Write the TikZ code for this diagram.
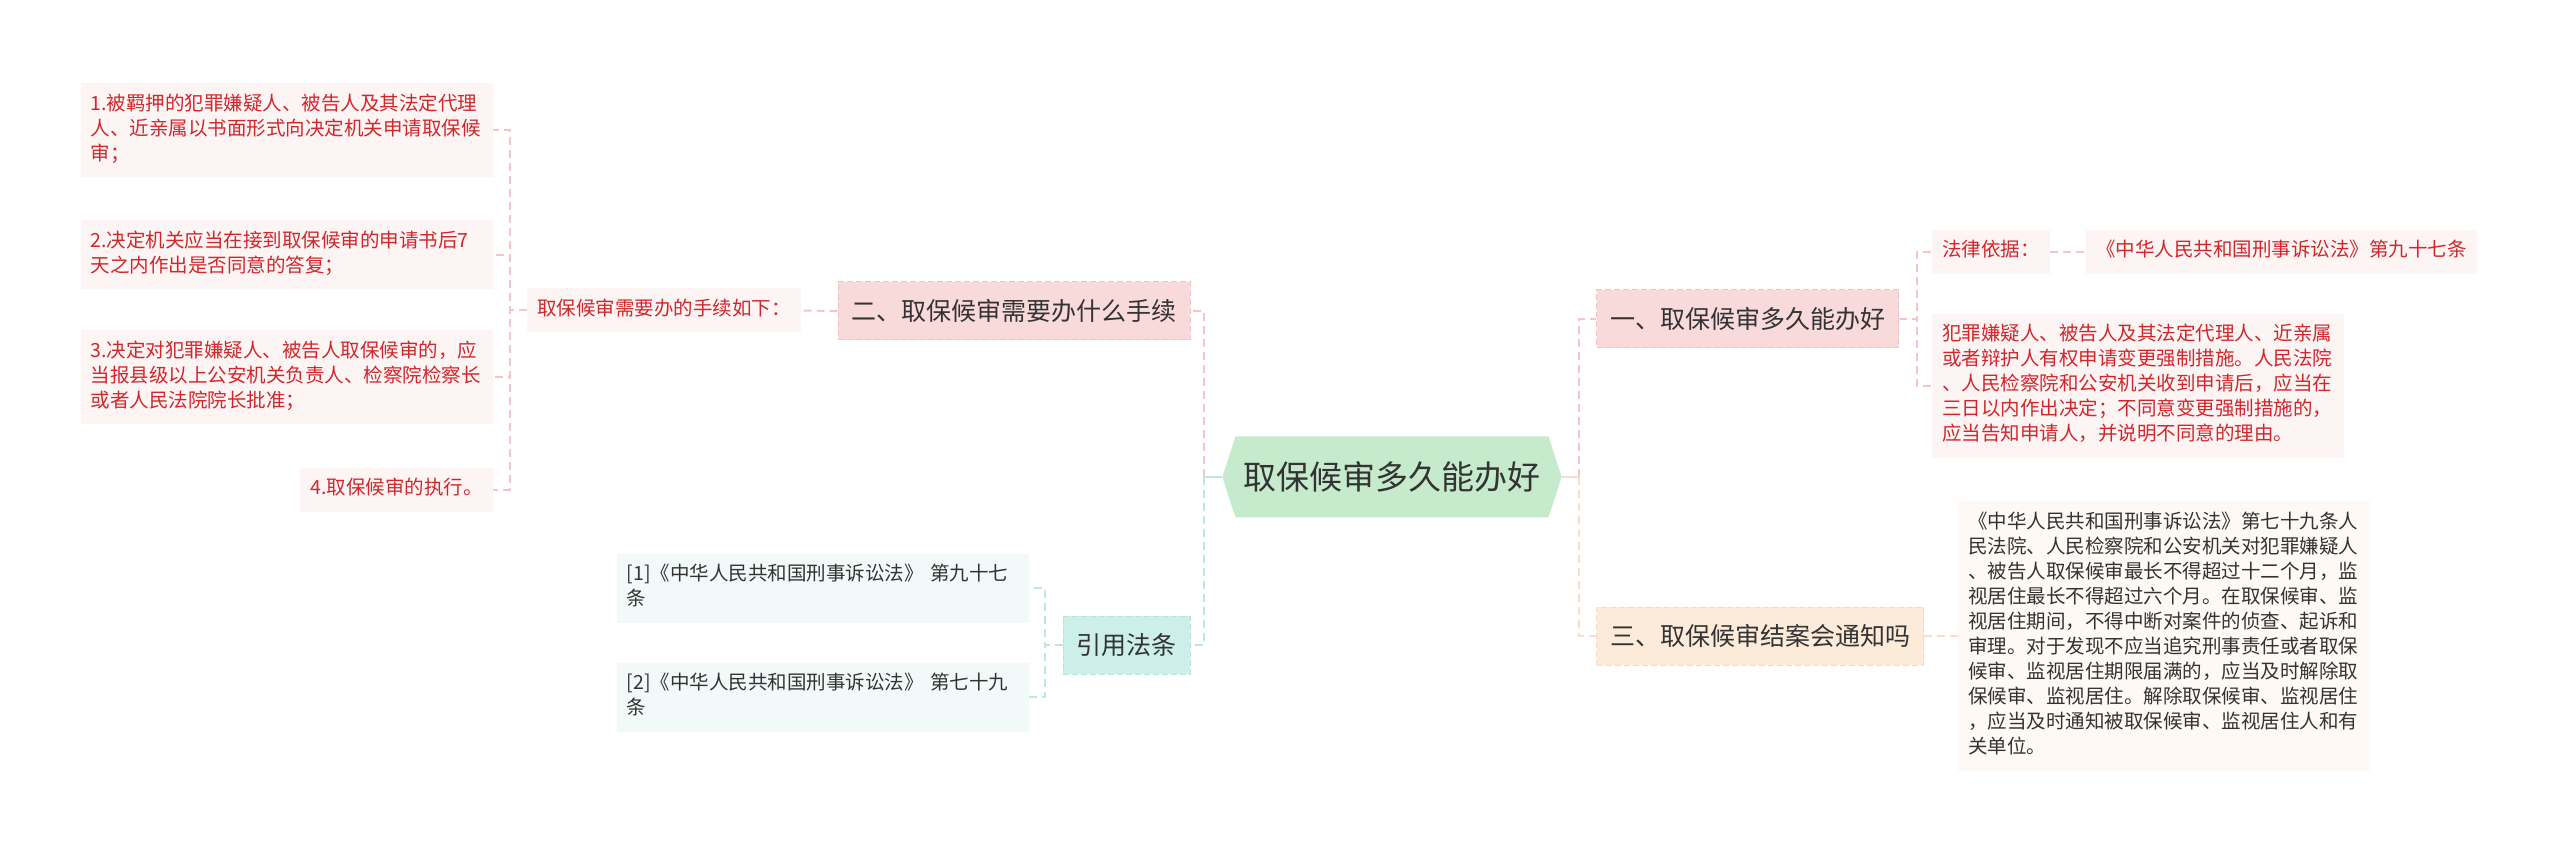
\documentclass[tikz,border=0pt]{standalone}
\usepackage{fontspec}
\setmainfont{Noto Sans CJK SC}
\usetikzlibrary{shapes.symbols}
\definecolor{RootFill}{HTML}{C6EACC}
\definecolor{Ink}{HTML}{333333}
\definecolor{LeafRed}{HTML}{D0272B}
\definecolor{PnkFill}{HTML}{F9DADB}
\definecolor{PnkBord}{HTML}{F1C2C5}
\definecolor{PnkLeaf}{HTML}{FDF4F4}
\definecolor{PnkLine}{HTML}{F3C6CA}
\definecolor{CynFill}{HTML}{CDEFEA}
\definecolor{CynBord}{HTML}{B5E4DD}
\definecolor{CynLeaf}{HTML}{F2FAF9}
\definecolor{CynLine}{HTML}{BDE7E1}
\definecolor{OrgFill}{HTML}{FDEBDA}
\definecolor{OrgBord}{HTML}{F6D9C0}
\definecolor{OrgLeaf}{HTML}{FEF9F4}
\definecolor{OrgLine}{HTML}{FADCC9}
\tikzset{
  leaf/.style={rectangle, inner xsep=5pt, inner ysep=4.75pt, align=left,
               font=\fontsize{9.75pt}{12.5pt}\selectfont,
               execute at begin node=\strut, execute at end node=\strut},
  wide/.style={text width=196pt},
  pnkL/.style={leaf, fill=PnkLeaf, text=LeafRed},
  cynL/.style={leaf, fill=CynLeaf, text=Ink},
  orgL/.style={leaf, fill=OrgLeaf, text=Ink},
  branch/.style={rectangle, line width=0.5pt, dash pattern=on 3pt off 1.5pt,
                 minimum height=29pt, inner xsep=6.75pt, inner ysep=0pt,
                 font=\fontsize{12.5pt}{15pt}\selectfont, text=Ink},
  pnkB/.style={branch, fill=PnkFill, draw=PnkBord},
  cynB/.style={branch, fill=CynFill, draw=CynBord},
  orgB/.style={branch, fill=OrgFill, draw=OrgBord},
  hub/.style={signal, signal to=west and east, signal pointer angle=144,
              fill=RootFill, minimum height=40.5pt, minimum width=167.5pt,
              inner xsep=4pt, font=\fontsize{16.5pt}{20pt}\selectfont, text=Ink},
  lnk/.style={line width=1pt, dash pattern=on 4pt off 2.5pt, draw=#1},
  stub/.style={line width=1pt, draw=#1},
}

\begin{document}
\begin{tikzpicture}[x=0.5pt,y=-0.5pt]
\useasboundingbox (0,0) rectangle (2560,855);

% ---------------- centre ------------------------------------------------------
\node[hub] (root) at (1392,477) {取保候审多久能办好};
\coordinate (lj) at ([xshift=-9pt]root.west);
\coordinate (rj) at ([xshift=8.5pt]root.east);

% ---------------- left: procedure -----------------------------------------------
\node[pnkB] (proc) at (1014,311) {二、取保候审需要办什么手续};
\node[pnkL] (pin) at (664,310.5) {取保候审需要办的手续如下：};
\node[pnkL, wide, anchor=east] (s1) at (493,130.5)
  {1.被羁押的犯罪嫌疑人、被告人及其法定代理\\人、近亲属以书面形式向决定机关申请取保候\\审；};
\node[pnkL, wide, anchor=east] (s2) at (493,255)
  {2.决定机关应当在接到取保候审的申请书后7\\天之内作出是否同意的答复；};
\node[pnkL, wide, anchor=east] (s3) at (493,377.5)
  {3.决定对犯罪嫌疑人、被告人取保候审的，应\\当报县级以上公安机关负责人、检察院检察长\\或者人民法院院长批准；};
\node[pnkL, anchor=east] (s4) at (493,490) {4.取保候审的执行。};

% ---------------- left: cited articles -------------------------------------------
\node[cynB] (cite) at (1126.5,645) {引用法条};
\node[cynL, wide, anchor=east] (ref1) at (1029,588)
  {[1]《中华人民共和国刑事诉讼法》 第九十七\\条};
\node[cynL, wide, anchor=east] (ref2) at (1029,697)
  {[2]《中华人民共和国刑事诉讼法》 第七十九\\条};

% ---------------- right: duration ------------------------------------------------
\node[pnkB, anchor=west] (how) at (1596,319) {一、取保候审多久能办好};
\node[pnkL, anchor=west] (basis) at (1932,252) {法律依据：};
\node[pnkL, anchor=west] (basisArt) at (2086,252) {《中华人民共和国刑事诉讼法》第九十七条};
\node[pnkL, wide, anchor=west] (rule) at (1932,386)
  {犯罪嫌疑人、被告人及其法定代理人、近亲属\\或者辩护人有权申请变更强制措施。人民法院\\、人民检察院和公安机关收到申请后，应当在\\三日以内作出决定；不同意变更强制措施的，\\应当告知申请人，并说明不同意的理由。};

% ---------------- right: notice ---------------------------------------------------
\node[orgB, anchor=west] (note) at (1596,636) {三、取保候审结案会通知吗};
\node[orgL, wide, anchor=west] (ntext) at (1958,636)
  {《中华人民共和国刑事诉讼法》第七十九条人\\民法院、人民检察院和公安机关对犯罪嫌疑人\\、被告人取保候审最长不得超过十二个月，监\\视居住最长不得超过六个月。在取保候审、监\\视居住期间，不得中断对案件的侦查、起诉和\\审理。对于发现不应当追究刑事责任或者取保\\候审、监视居住期限届满的，应当及时解除取\\保候审、监视居住。解除取保候审、监视居住\\，应当及时通知被取保候审、监视居住人和有\\关单位。};

% ---------------- connectors ------------------------------------------------------
\draw[lnk=PnkLine] (lj) |- (proc.east);
\draw[lnk=CynLine] (lj) |- (cite.east);
\draw[stub=CynLine] (root.west) -- (lj);
\draw[lnk=PnkLine] (rj) |- (how.west);
\draw[lnk=OrgLine] (rj) |- (note.west);
\draw[stub=OrgLine] (root.east) -- (rj);
\draw[lnk=PnkLine] (proc.west) -- (pin.east);
\foreach \n in {s1,s2,s3,s4}
  \draw[lnk=PnkLine] (pin.west) -- ++(-17,0) |- (\n.east);
\foreach \n in {ref1,ref2}
  \draw[lnk=CynLine] (cite.west) -- ++(-18,0) |- (\n.east);
\foreach \n in {basis,rule}
  \draw[lnk=PnkLine] (how.east) -- ++(18,0) |- (\n.west);
\draw[lnk=PnkLine] (basis.east) -- (basisArt.west);
\draw[lnk=OrgLine] (note.east) -- (ntext.west);

\end{tikzpicture}
\end{document}
